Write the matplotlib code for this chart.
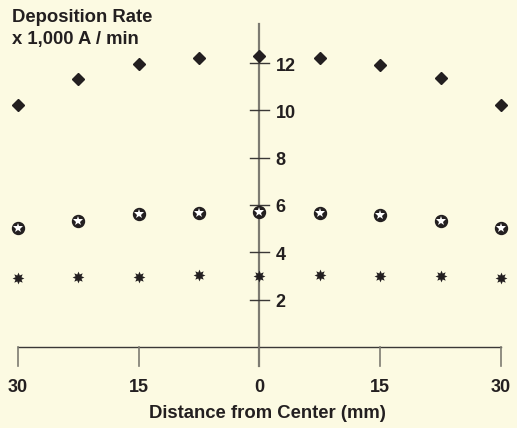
import matplotlib.pyplot as plt
from matplotlib.path import Path

# distance from center (mm), left side shown as negative
distance = [-30, -22.5, -15, -7.5, 0, 7.5, 15, 22.5, 30]
diamond_rate = [10.25, 11.35, 11.95, 12.22, 12.32, 12.22, 11.93, 11.38, 10.25]
star_rate = [5.03, 5.32, 5.62, 5.67, 5.72, 5.67, 5.60, 5.33, 5.05]
asterisk_rate = [2.93, 2.97, 2.98, 3.06, 3.02, 3.04, 2.99, 2.99, 2.93]

x_ticks = [-30, -15, 0, 15, 30]
x_labels = ['30', '15', '0', '15', '30']
y_ticks = [2, 4, 6, 8, 10, 12]

bg = '#fcfae2'
ink = '#231f20'
axis_col = '#7d7b72'
plt.rcParams['font.family'] = ['Liberation Sans', 'DejaVu Sans']

fig = plt.figure(figsize=(5.17, 4.28), dpi=100, facecolor=bg)
ax = fig.add_axes([0, 0, 1, 1])
ax.set_facecolor(bg)
ax.set_xlim(-32.22, 31.98)
ax.set_ylim(-3.42, 14.67)
ax.axis('off')

# axes drawn by hand
ax.plot([0, 0], [-0.8, 13.66], color=axis_col, lw=1.6, zorder=1)
ax.plot([-30, 30], [0, 0], color='#3a3836', lw=1.0, zorder=1)
for t, lab in zip(x_ticks, x_labels):
    ax.plot([t, t], [0, -0.8], color=axis_col, lw=1.2, zorder=1)
    ax.text(t, -1.7, lab, ha='center', va='center',
            fontsize=13, fontweight='bold', color=ink)
for t in y_ticks:
    ax.plot([-1.15, 1.15], [t, t], color='#3a3836', lw=1.0, zorder=1)
    ax.text(2.0, t - 0.12, str(t), ha='left', va='center',
            fontsize=13, fontweight='bold', color=ink)

ax.text(1.0, -2.82, 'Distance from Center (mm)', ha='center', va='center',
        fontsize=13.3, fontweight='bold', color=ink)
ax.text(-30.75, 13.95, 'Deposition Rate', ha='left', va='center',
        fontsize=13.3, fontweight='bold', color=ink)
ax.text(-30.75, 12.98, 'x 1,000 A / min', ha='left', va='center',
        fontsize=13.3, fontweight='bold', color=ink)

# data
chunky = Path.unit_regular_star(8, innerCircle=0.55)
ax.plot(distance, diamond_rate, 'D', color=ink, ms=6.3, ls='none', zorder=3)
ax.plot(distance, star_rate, 'o', color=ink, ms=8.6, ls='none', zorder=3)
ax.plot(distance, star_rate, '*', color='white', ms=7.2, mew=0, ls='none', zorder=4)
ax.plot(distance, asterisk_rate, marker=chunky, color=ink, ms=8.5, mew=0,
        ls='none', zorder=3)

fig.savefig('out.png', dpi=100, facecolor=bg)
